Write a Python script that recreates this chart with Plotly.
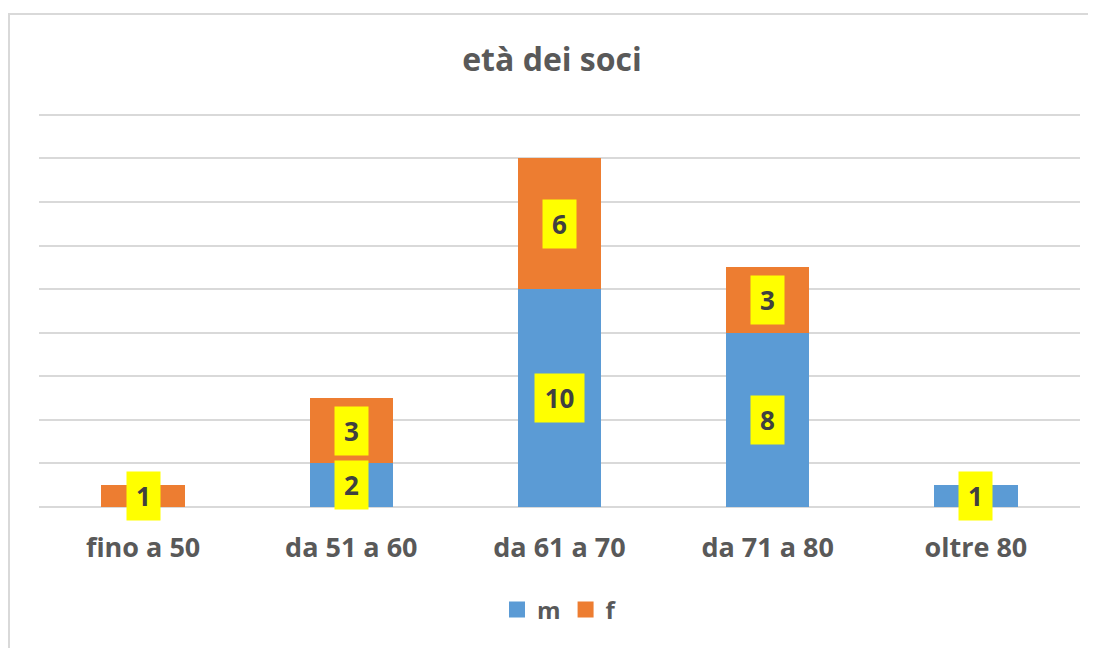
import plotly.graph_objects as go

categories = ["fino a 50", "da 51 a 60", "da 61 a 70", "da 71 a 80", "oltre 80"]
m_values = [0, 2, 10, 8, 1]
f_values = [1, 3, 6, 3, 0]

BLUE = "#5B9BD5"
ORANGE = "#ED7D31"
FONT = "Open Sans"

# page body has an 8px margin; figure is sized to fill the rest of the window
W, H = 1088, 640
OFF = 8

fig = go.Figure()
fig.add_trace(go.Bar(name="m", x=categories, y=m_values, showlegend=False,
                     marker=dict(color=BLUE, line=dict(width=0))))
fig.add_trace(go.Bar(name="f", x=categories, y=f_values, showlegend=False,
                     marker=dict(color=ORANGE, line=dict(width=0))))
# legend entries with larger square swatches
fig.add_trace(go.Scatter(name="m", x=[None], y=[None], mode="markers",
                         marker=dict(symbol="square", size=18, color=BLUE)))
fig.add_trace(go.Scatter(name="f", x=[None], y=[None], mode="markers",
                         marker=dict(symbol="square", size=18, color=ORANGE)))

label_font = dict(family=FONT, size=26, color="#404040", weight="bold")

def label(c, y, v):
    txt = str(v)
    return dict(x=c, y=y, text=txt, showarrow=False, bgcolor="#FFFF00", borderpad=6,
                width=5 + 16 * len(txt), height=36, font=label_font)

annotations = []
for c, mv, fv in zip(categories, m_values, f_values):
    if mv > 0:
        annotations.append(label(c, mv / 2, mv))
    if fv > 0:
        annotations.append(label(c, mv + fv / 2, fv))

YMAX = 18.5
unit = 393 / 18.02
b = 141
plot_h = YMAX * unit
t = H - b - plot_h
l, r = 39 - OFF, 16
plot_w = W - l - r

def px_x(x):
    return (x - OFF - l) / plot_w

def px_y(y):
    return (H - b - (y - OFF)) / plot_h

fig.update_layout(
    barmode="stack",
    bargap=0.6,
    width=W, height=H,
    margin=dict(l=l, r=r, t=t, b=b),
    paper_bgcolor="white", plot_bgcolor="white",
    title=dict(text="<b>età dei soci</b>", x=0.5, xanchor="center", y=1 - (60 - OFF) / H, yanchor="middle",
               font=dict(family=FONT, size=32, color="#595959")),
    xaxis=dict(showgrid=False, showline=False, ticks="", ticklabelstandoff=22,
               tickfont=dict(family=FONT, size=27, color="#595959", weight="bold")),
    yaxis=dict(range=[0, YMAX], tickvals=[0, 2, 4, 6, 8, 10, 12, 14, 16, 18], showticklabels=False,
               showgrid=True, gridcolor="#D9D9D9", gridwidth=1.5, zeroline=True,
               zerolinecolor="#D9D9D9", zerolinewidth=1.5, fixedrange=True),
    legend=dict(orientation="h", x=0.5, xanchor="center", y=px_y(610), yanchor="middle",
                font=dict(family=FONT, size=24, color="#595959", weight="bold"),
                itemwidth=30, traceorder="normal"),
    annotations=annotations,
    shapes=[dict(type="rect", xref="paper", yref="paper", x0=px_x(9), x1=1.2, y0=-0.6, y1=px_y(13.5),
                 line=dict(color="#D9D9D9", width=2), layer="below")],
    showlegend=True,
)

fig.write_html("out.html")
